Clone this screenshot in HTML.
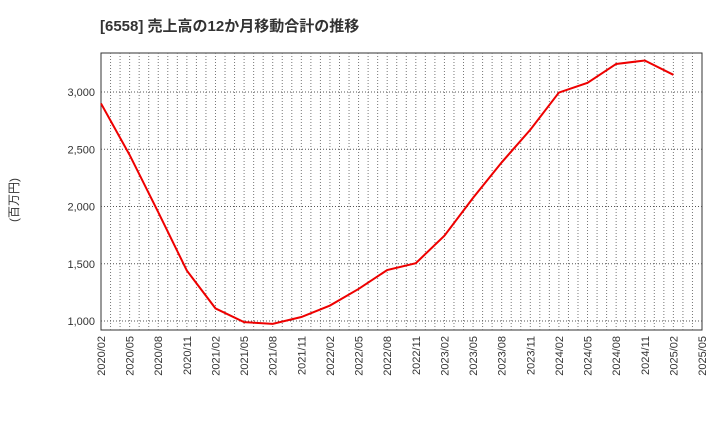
<!DOCTYPE html>
<html><head><meta charset="utf-8">
<style>
body{margin:0;background:#fff;width:720px;height:440px;overflow:hidden}
svg text{font-family:"Liberation Sans","Noto Sans CJK JP",sans-serif}
</style></head>
<body>
<svg id="chart" width="720" height="440" xmlns="http://www.w3.org/2000/svg">
<text x="100" y="31" font-size="15" font-weight="bold" fill="#333">[6558]  売上高の12か月移動合計の推移</text>
<text transform="translate(18,200) rotate(-90)" font-size="12" fill="#333" text-anchor="middle">(百万円)</text>
<rect x="101" y="53" width="601" height="277" fill="#fff" stroke="#333" stroke-width="1"/>
<g id="grid"></g>
<g id="axes"></g>
<polyline id="line" fill="none" stroke="#ee0000" stroke-width="2"/>
</svg>
<script>
const xLabels=["2020/02","2020/05","2020/08","2020/11","2021/02","2021/05","2021/08","2021/11","2022/02","2022/05","2022/08","2022/11","2023/02","2023/05","2023/08","2023/11","2024/02","2024/05","2024/08","2024/11","2025/02","2025/05"];
const yTicks=[1000,1500,2000,2500,3000];
const yTickLabels=["1,000","1,500","2,000","2,500","3,000"];
const sales=[2900,2450,1950,1440,1110,990,975,1035,1135,1280,1445,1505,1745,2075,2385,2670,2995,3080,3245,3275,3150];
const X0=101,X1=702,Y0=330,Y1=53;
const xs=i=>X0+(X1-X0)*i/(xLabels.length-1);
const ys=v=>321+(1000-v)*(321-92)/2000;
const NS="http://www.w3.org/2000/svg";
const grid=document.getElementById('grid'),axes=document.getElementById('axes');
const months=(xLabels.length-1)*3;
for(let m=1;m<months;m++){
 const x=xs(m/3);
 const g=document.createElementNS(NS,'line');
 
 
 g.setAttribute('x1',x);g.setAttribute('x2',x);g.setAttribute('y1',Y1);g.setAttribute('y2',Y0);
 g.setAttribute('stroke','#777');g.setAttribute('stroke-dasharray','1,2');
 grid.appendChild(g);
}
xLabels.forEach((l,i)=>{
 const x=xs(i);
 const t=document.createElementNS(NS,'text');
 
 
 t.setAttribute('transform',`translate(${x+4},${Y0+6}) rotate(-90)`);
 t.setAttribute('text-anchor','end');t.setAttribute('font-size','11');t.setAttribute('fill','#333');
 t.textContent=l;axes.appendChild(t);
});
yTicks.forEach((v,i)=>{
 const y=ys(v);
 const g=document.createElementNS(NS,'line');
 
 
 g.setAttribute('x1',X0);g.setAttribute('x2',X1);g.setAttribute('y1',y);g.setAttribute('y2',y);
 g.setAttribute('stroke','#555');g.setAttribute('stroke-dasharray','1,2');
 grid.appendChild(g);
 const t=document.createElementNS(NS,'text');
 
 
 t.setAttribute('x',X0-6);t.setAttribute('y',y+4);
 t.setAttribute('text-anchor','end');t.setAttribute('font-size','11');t.setAttribute('fill','#333');
 t.textContent=yTickLabels[i];axes.appendChild(t);
});
document.getElementById('line').setAttribute('points',sales.map((v,i)=>xs(i)+','+ys(v)).join(' '));
</script>
</body></html>
